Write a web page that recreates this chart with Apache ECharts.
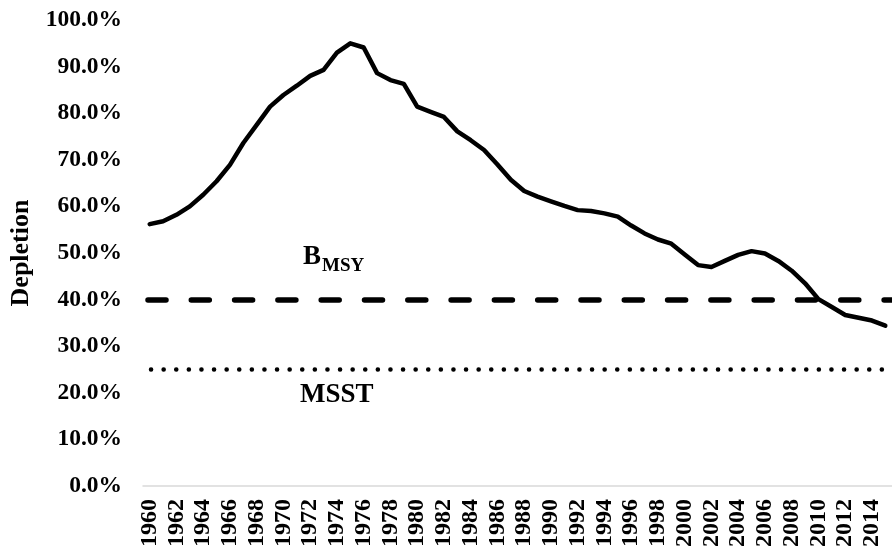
<!DOCTYPE html>
<html>
<head>
<meta charset="utf-8">
<script src="https://cdn.jsdelivr.net/npm/echarts@6/dist/echarts.min.js"></script>
<style>
  html, body { margin: 0; padding: 0; background: #ffffff; }
  #chart { width: 892px; height: 550px; }
</style>
</head>
<body>
<div id="chart"></div>
<script>
// Stock depletion by year (percent of unfished biomass)
const years = [
  '1960','1961','1962','1963','1964','1965','1966','1967','1968','1969',
  '1970','1971','1972','1973','1974','1975','1976','1977','1978','1979',
  '1980','1981','1982','1983','1984','1985','1986','1987','1988','1989',
  '1990','1991','1992','1993','1994','1995','1996','1997','1998','1999',
  '2000','2001','2002','2003','2004','2005','2006','2007','2008','2009',
  '2010','2011','2012','2013','2014','2015'
];
const depletion = [
  56.2, 56.8, 58.2, 60.0, 62.5, 65.4, 68.9, 73.6, 77.5, 81.4,
  83.9, 85.9, 88.0, 89.3, 93.0, 95.0, 94.1, 88.6, 87.1, 86.3,
  81.4, 80.3, 79.2, 76.1, 74.2, 72.1, 69.0, 65.7, 63.3, 62.1,
  61.1, 60.1, 59.2, 59.0, 58.5, 57.8, 55.9, 54.2, 52.9, 52.0,
  49.7, 47.4, 47.0, 48.3, 49.6, 50.4, 49.9, 48.3, 46.2, 43.5,
  40.1, 38.4, 36.7, 36.1, 35.5, 34.4
];
// Reference points
const BMSY = 40;
const MSST = 25;
// Y axis range and step
const yMin = 0, yMax = 100, yStep = 10;

const serif = '"Liberation Serif", "Times New Roman", serif';
const chart = echarts.init(document.getElementById('chart'), null, { renderer: 'canvas' });

chart.setOption({
  animation: false,
  backgroundColor: '#ffffff',
  grid: { left: 140, top: 20, width: 761.6, height: 467, containLabel: false },
  xAxis: {
    type: 'category',
    data: years,
    boundaryGap: true,
    axisLine: { show: true, lineStyle: { color: '#d9d9d9', width: 1.5 } },
    axisTick: { show: false },
    axisLabel: {
      interval: 1,
      rotate: 90,
      margin: 13,
      color: '#000000',
      fontFamily: serif,
      fontWeight: 'bold',
      fontSize: 24
    },
    splitLine: { show: false }
  },
  yAxis: {
    type: 'value',
    min: yMin, max: yMax, interval: yStep,
    name: 'Depletion',
    nameLocation: 'middle',
    nameGap: 109,
    nameRotate: 90,
    nameTextStyle: { color: '#000000', fontFamily: serif, fontWeight: 'bold', fontSize: 26 },
    axisLine: { show: false },
    axisTick: { show: false },
    splitLine: { show: false },
    axisLabel: {
      margin: 21,
      color: '#000000',
      fontFamily: serif,
      fontWeight: 'bold',
      fontSize: 23.5,
      formatter: v => v.toFixed(1) + '%'
    }
  },
  series: [
    {
      name: 'Depletion',
      type: 'line',
      data: depletion,
      symbol: 'none',
      smooth: false,
      z: 3,
      lineStyle: { color: '#000000', width: 4.5, join: 'round', cap: 'round' },
      markLine: {
        silent: true,
        symbol: 'none',
        label: { show: false },
        data: [
          { yAxis: BMSY, lineStyle: { color: '#000000', width: 5.5, type: [18, 25.3], dashOffset: -5, cap: 'round' } },
          { yAxis: MSST, lineStyle: { color: '#000000', width: 4.5, type: [0.1, 12.5], dashOffset: -8, cap: 'round' } }
        ]
      }
    }
  ],
  graphic: [
    {
      type: 'text', left: 303, top: 244,
      style: { text: 'B', fill: '#000000', font: 'bold 27px ' + serif }
    },
    {
      type: 'text', left: 322, top: 257,
      style: { text: 'MSY', fill: '#000000', font: 'bold 19px ' + serif }
    },
    {
      type: 'text', left: 300, top: 382,
      style: { text: 'MSST', fill: '#000000', font: 'bold 27px ' + serif }
    }
  ]
});
</script>
</body>
</html>
